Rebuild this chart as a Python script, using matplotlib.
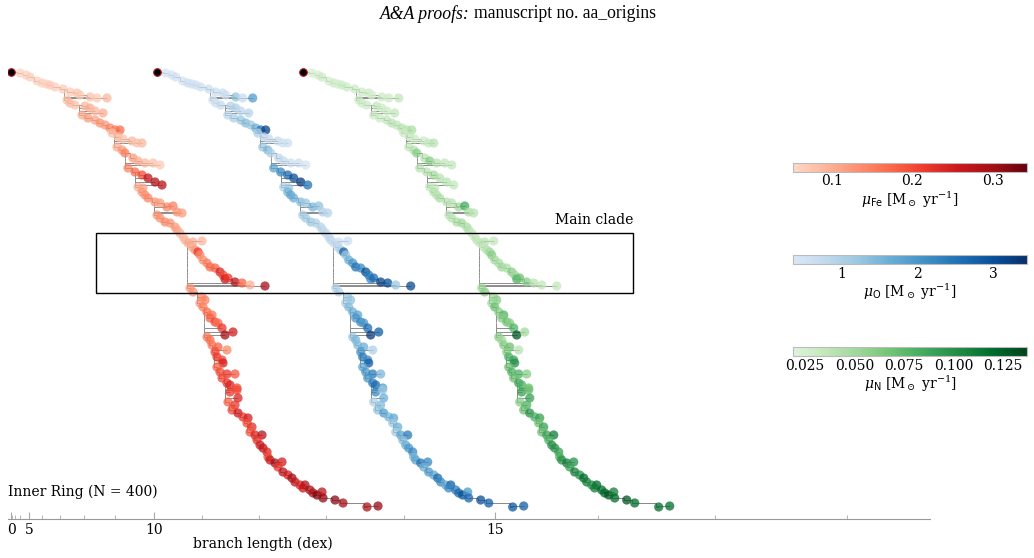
import matplotlib.pyplot as plt
import numpy as np
from matplotlib.colors import ListedColormap, Normalize
from matplotlib.cm import ScalarMappable
from matplotlib.collections import LineCollection
from matplotlib.patches import Rectangle
from matplotlib.ticker import FormatStrFormatter

plt.rcParams['font.family'] = 'DejaVu Serif'
plt.rcParams['mathtext.fontset'] = 'dejavuserif'

# tree leaves (same tree drawn three times)
# leaf_bl: distance from root along the axis (pixel units), leaf_row: vertical leaf order
leaf_bl = [9, 15, 19, 26, 31, 35, 39, 44,
           52, 59, 66, 69, 79, 86, 96,
           56, 59, 64, 74, 79, 84, 92,
           71, 77, 84, 89, 94, 99, 104, 109,
           101, 107, 112, 121, 126, 131,
           106, 111, 114, 122, 127, 134, 142, 149,
           117, 124, 131, 137, 144, 151,
           127, 132, 131, 134, 137, 144, 149, 156, 162, 166, 171,
           146, 149, 154, 159, 164, 166, 169,
           172, 174, 177, 182, 191,
           181, 184, 187, 189, 192, 196, 199, 204, 209, 212, 214, 217, 224, 231, 239, 254,
           179, 182, 191, 194, 189, 192, 196, 201, 199, 204, 207, 211, 214, 222,
           196, 199, 201, 207, 216, 204, 206, 211, 212, 206, 209, 216, 224, 211, 216, 219, 226, 219,
           226, 227, 217, 224, 221, 227, 232, 237, 236, 241, 239, 244, 251, 246, 249, 252, 256, 257, 259,
           264, 271, 267, 272, 277, 281, 284, 289, 294, 292, 299, 302, 306, 311, 312, 324, 332, 356, 367]
leaf_row = [1, 3, 5, 9, 11, 12, 13, 15,
            17, 20, 21, 23, 25, 26, 26,
            28, 31, 33, 34, 36, 39, 41,
            43, 46, 48, 51, 53, 56, 58, 58,
            61, 65, 67, 69, 71, 71,
            75, 78, 81, 86, 89, 91, 91, 93,
            96, 100, 103, 106, 110, 113,
            115, 116, 120, 123, 126, 130, 131, 135, 134, 140, 141,
            143, 146, 150, 151, 155, 158, 161,
            165, 168, 171, 170, 169,
            175, 178, 180, 183, 188, 191, 195, 196, 200, 203, 207, 206, 210, 211, 213, 214,
            216, 220, 225, 228, 231, 235, 240, 243, 246, 250, 251, 256, 263, 260,
            265, 268, 273, 275, 278, 280, 285, 288, 291, 295, 300, 302, 302, 306, 311, 313, 316, 320,
            318, 326, 330, 333, 338, 341, 345, 346, 351, 355, 360, 363, 363, 368, 373, 376, 380, 385, 388,
            391, 390, 395, 400, 403, 406, 410, 413, 413, 416, 418, 421, 423, 420, 426, 428, 431, 435, 434]

mu_fe = [0.06, 0.06, 0.065, 0.06, 0.065, 0.06, 0.07, 0.065,
         0.07, 0.07, 0.075, 0.07, 0.08, 0.07, 0.09,
         0.08, 0.09, 0.08, 0.09, 0.1, 0.09, 0.1,
         0.1, 0.12, 0.11, 0.13, 0.12, 0.14, 0.16, 0.17,
         0.08, 0.09, 0.08, 0.09, 0.08, 0.09,
         0.1, 0.12, 0.15, 0.12, 0.1, 0.09, 0.08, 0.07,
         0.14, 0.17, 0.2, 0.27, 0.29, 0.28,
         0.1, 0.11, 0.12, 0.13, 0.14, 0.13, 0.12, 0.14, 0.15, 0.13, 0.12,
         0.12, 0.13, 0.14, 0.13, 0.12, 0.11, 0.1,
         0.08, 0.09, 0.1, 0.1, 0.09,
         0.1, 0.12, 0.22, 0.14, 0.13, 0.15, 0.17, 0.18, 0.24, 0.2, 0.26, 0.22, 0.28, 0.18, 0.1, 0.3,
         0.12, 0.13, 0.14, 0.15, 0.13, 0.15, 0.17, 0.16, 0.18, 0.2, 0.17, 0.22, 0.3, 0.25,
         0.15, 0.17, 0.16, 0.18, 0.14, 0.2, 0.22, 0.2, 0.25, 0.18, 0.2, 0.22, 0.19, 0.2, 0.22, 0.24, 0.2, 0.22,
         0.2, 0.24, 0.18, 0.22, 0.2, 0.26, 0.22, 0.25, 0.2, 0.23, 0.19, 0.24, 0.28, 0.22, 0.25, 0.27, 0.24, 0.2, 0.26,
         0.3, 0.25, 0.22, 0.28, 0.25, 0.3, 0.27, 0.24, 0.29, 0.26, 0.3, 0.28, 0.33, 0.27, 0.31, 0.32, 0.3, 0.29, 0.31]
mu_o = [0.5, 0.5, 0.55, 0.5, 0.6, 0.55, 0.6, 0.6,
        0.6, 0.6, 0.65, 0.6, 1.3, 0.7, 1.9,
        0.5, 0.6, 0.7, 0.9, 1.0, 0.8, 0.9,
        0.8, 1.0, 1.2, 1.4, 1.2, 1.6, 2.5, 3.2,
        1.0, 0.8, 0.7, 0.7, 0.6, 0.6,
        1.2, 1.5, 1.0, 0.8, 0.7, 0.6, 0.6, 0.5,
        1.8, 2.2, 2.6, 3.0, 3.3, 2.5,
        1.0, 1.2, 1.5, 1.8, 1.6, 1.4, 1.2, 1.5, 1.3, 1.0, 0.9,
        1.0, 1.1, 1.2, 1.0, 0.9, 0.8, 0.8,
        0.7, 0.8, 0.7, 0.6, 0.6,
        0.8, 1.0, 2.8, 1.2, 1.6, 2.0, 2.5, 2.2, 3.0, 2.4, 2.2, 2.6, 3.2, 3.0, 1.2, 3.1,
        0.9, 1.0, 1.2, 1.3, 1.1, 1.4, 1.6, 1.8, 2.0, 2.2, 2.0, 2.6, 3.3, 2.8,
        1.2, 1.5, 1.4, 1.6, 1.0, 2.0, 2.4, 2.2, 2.8, 1.8, 2.0, 2.4, 1.5, 2.0, 2.4, 2.6, 2.0, 2.2,
        1.2, 1.6, 1.0, 1.4, 1.3, 1.9, 1.5, 1.7, 1.2, 1.6, 1.1, 1.8, 2.4, 1.4, 1.6, 2.0, 2.2, 1.5, 1.8,
        2.5, 2.2, 1.6, 2.0, 1.8, 2.6, 2.2, 1.7, 2.8, 2.2, 2.4, 2.6, 3.0, 2.0, 2.7, 3.0, 2.8, 2.9, 2.8]
mu_n = [0.025, 0.025, 0.03, 0.025, 0.03, 0.025, 0.03, 0.03,
        0.03, 0.03, 0.03, 0.025, 0.03, 0.03, 0.035,
        0.03, 0.03, 0.03, 0.035, 0.03, 0.03, 0.035,
        0.03, 0.03, 0.035, 0.04, 0.035, 0.04, 0.04, 0.045,
        0.03, 0.035, 0.03, 0.03, 0.035, 0.04,
        0.035, 0.04, 0.06, 0.04, 0.06, 0.04, 0.035, 0.035,
        0.04, 0.04, 0.05, 0.04, 0.04, 0.035,
        0.035, 0.035, 0.04, 0.04, 0.045, 0.04, 0.04, 0.05, 0.085, 0.045, 0.04,
        0.035, 0.04, 0.045, 0.05, 0.045, 0.04, 0.035,
        0.03, 0.035, 0.035, 0.04, 0.035,
        0.035, 0.04, 0.05, 0.06, 0.05, 0.045, 0.05, 0.045, 0.06, 0.05, 0.08, 0.07, 0.06, 0.04, 0.035, 0.035,
        0.05, 0.06, 0.05, 0.06, 0.05, 0.07, 0.06, 0.08, 0.06, 0.07, 0.06, 0.08, 0.13, 0.05,
        0.06, 0.05, 0.06, 0.07, 0.04, 0.06, 0.08, 0.09, 0.1, 0.07, 0.08, 0.08, 0.06, 0.07, 0.09, 0.08, 0.07, 0.09,
        0.07, 0.09, 0.06, 0.08, 0.07, 0.1, 0.08, 0.09, 0.07, 0.09, 0.07, 0.09, 0.11, 0.08, 0.1, 0.1, 0.09, 0.08, 0.1,
        0.11, 0.1, 0.09, 0.11, 0.1, 0.12, 0.11, 0.1, 0.12, 0.11, 0.12, 0.12, 0.13, 0.11, 0.12, 0.13, 0.12, 0.12, 0.12]

copy_shift = [0, 145.7, 291.7]          # horizontal offset of each copy (pixel units)
cmap_names = ['Reds', 'Blues', 'Greens']
cbar_limits = [(0.052, 0.342), (0.36, 3.44), (0.019, 0.137)]
cbar_ticks = [[0.1, 0.2, 0.3], [1, 2, 3], [0.025, 0.05, 0.075, 0.1, 0.125]]
cbar_labels = [r'$\mu_{\mathsf{Fe}}$ [M$_\odot$ yr$^{-1}$]',
               r'$\mu_{\mathsf{O}}$ [M$_\odot$ yr$^{-1}$]',
               r'$\mu_{\mathsf{N}}$ [M$_\odot$ yr$^{-1}$]']
axis_ticks = [0, 5, 10, 15]

PX = 1 / 0.1433   # dex^3 per pixel unit (axis is linear in cubed branch length)


def trunc(name):
    return ListedColormap(plt.get_cmap(name)(np.linspace(0.15, 1.0, 256)))


def tree_segments(xs, ys, node):
    segs = []
    for i in range(1, len(xs)):
        segs.append([(node[i], ys[i]), (xs[i], ys[i])])
        segs.append([(node[i], ys[i - 1]), (node[i], ys[i])])
        if node[i] != node[i - 1]:
            segs.append([(node[i - 1], ys[i - 1]), (node[i], ys[i - 1])])
    return segs


fig = plt.figure(figsize=(10.34, 5.58), dpi=100)
ax = fig.add_axes([8 / 1034, 39 / 558, 922 / 1034, 479 / 558])

bl = np.array(leaf_bl) * PX
row = np.array(leaf_row, dtype=float)
order = np.argsort(row, kind='stable')
xs = np.concatenate([[0], bl[order]])
ys = np.concatenate([[0], row[order]])
# backbone hugging the lower-left edge, and small local clades next to the leaves
spine = np.minimum.accumulate(xs[::-1])[::-1] - 3 * PX
local = np.array([xs[i:i + 3].min() for i in range(len(xs))]) - 3 * PX

values = [mu_fe, mu_o, mu_n]
for k in range(3):
    sh = copy_shift[k] * PX
    segs = tree_segments(xs + sh, ys, local + sh)
    for i in range(1, len(xs)):
        segs.append([(spine[i] + sh, ys[i - 1]), (spine[i] + sh, ys[i])])
        if spine[i] != spine[i - 1]:
            segs.append([(spine[i - 1] + sh, ys[i - 1]), (spine[i] + sh, ys[i - 1])])
    ax.add_collection(LineCollection(segs, colors='#8c8c8c', linewidths=0.7, zorder=1))
    ax.scatter(bl + sh, row, c=values[k], cmap=trunc(cmap_names[k]),
               norm=Normalize(*cbar_limits[k]), s=44, alpha=0.75, linewidths=0, zorder=2)
    ax.scatter([sh], [0], s=30, c='black', edgecolors='#b01c2a', linewidths=0.8, zorder=3)

ax.set_xlim(-3 * PX, 919 * PX)
ax.set_ylim(447, -32)
for s in ['top', 'right', 'left']:
    ax.spines[s].set_visible(False)
ax.spines['bottom'].set_color('#999999')
ax.set_yticks([])
ax.set_xticks(np.array(axis_ticks) ** 3, labels=[str(t) for t in axis_ticks])
ax.set_xticks(np.arange(1, 19) ** 3, minor=True)
ax.tick_params(axis='x', which='both', direction='in', color='#aaaaaa', labelsize=10, pad=3)
ax.tick_params(axis='x', which='major', length=5)
ax.tick_params(axis='x', which='minor', length=3)
ax.set_xlabel('branch length (dex)', fontsize=10)
ax.xaxis.set_label_coords(0.2766, -0.036)

ax.add_patch(Rectangle((85 * PX, 161), 537 * PX, 60, fill=False, ec='black', lw=1.0, zorder=4))
ax.text(622 * PX, 152, 'Main clade', ha='right', va='baseline', fontsize=10)
ax.text(0.0, 0.056, 'Inner Ring (N = 400)', transform=ax.transAxes, ha='left', va='center', fontsize=10)

cbar_y = [167, 259.5, 351.5]
for k in range(3):
    cax = fig.add_axes([793 / 1034, 1 - (cbar_y[k] + 4.5) / 558, 234 / 1034, 9 / 558])
    sm = ScalarMappable(norm=Normalize(*cbar_limits[k]), cmap=trunc(cmap_names[k]))
    cb = fig.colorbar(sm, cax=cax, orientation='horizontal', ticks=cbar_ticks[k])
    cb.outline.set_edgecolor('#bbbbbb')
    cb.outline.set_linewidth(0.8)
    cb.ax.tick_params(length=0, labelsize=10, pad=2)
    if k == 2:
        cb.ax.xaxis.set_major_formatter(FormatStrFormatter('%.3f'))
    cb.set_label(cbar_labels[k], fontsize=10, labelpad=1)

fig.text(470 / 1034, 1 - 14 / 558, 'A&A proofs:', family='Liberation Serif', style='italic',
         ha='right', va='center', fontsize=12.7)
fig.text(474 / 1034, 1 - 14 / 558, 'manuscript no. aa_origins', family='Liberation Serif',
         ha='left', va='center', fontsize=12.7)

fig.savefig('out.png', dpi=100)
